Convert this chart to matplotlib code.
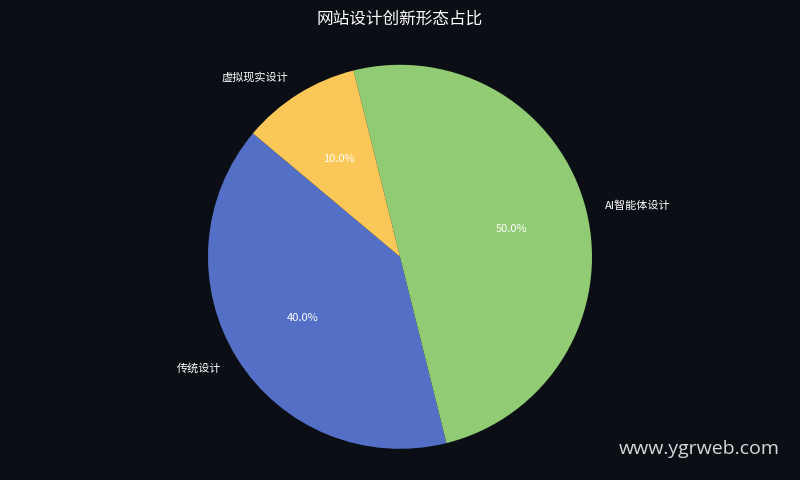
import matplotlib
matplotlib.use("Agg")
import matplotlib.pyplot as plt

plt.rcParams['font.family'] = ['Noto Sans CJK SC', 'DejaVu Sans']

# data
labels = ['传统设计', 'AI智能体设计', '虚拟现实设计']
values = [40, 50, 10]
colors = ['#5470c6', '#91cc75', '#fac858']

bg = '#0b0e14'

fig = plt.figure(figsize=(8, 4.8), dpi=100, facecolor=bg)
ax = fig.add_axes([0, -0.035, 1, 1])
ax.set_facecolor(bg)

wedges, texts, autotexts = ax.pie(values, labels=labels, colors=colors,
                                  autopct='%1.1f%%', startangle=140,
                                  pctdistance=0.6, labeldistance=1.1,
                                  wedgeprops={'linewidth': 0},
                                  textprops={'fontsize': 8, 'color': 'white'})
ax.set_aspect('equal')

fig.text(0.5, 0.961, '网站设计创新形态占比', ha='center', va='center',
         fontsize=12, color='white')

fig.text(0.975, 0.065, 'www.ygrweb.com', ha='right', va='center',
         fontsize=14, color='#d8d8d8', family=['Open Sans', 'DejaVu Sans'])

fig.savefig('out.png', dpi=100, facecolor=bg)
